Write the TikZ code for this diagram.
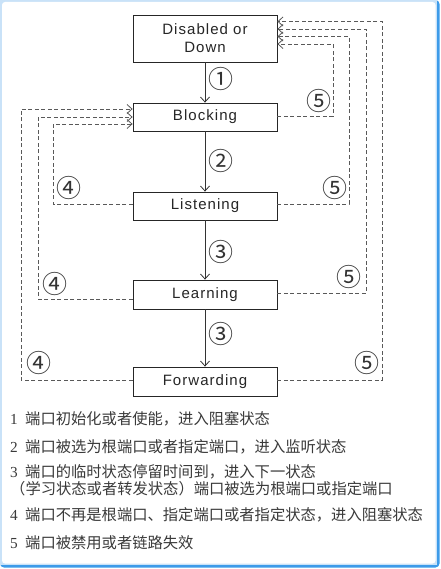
\documentclass[tikz,border=0pt]{standalone}
\usepackage{fontspec}
\setmainfont{Liberation Serif}
\newfontfamily\boxfont[LetterSpace=7]{Liberation Sans}
\newfontfamily\cjk{Noto Sans CJK SC}
\usetikzlibrary{arrows.meta}
\definecolor{framedark}{HTML}{3D9BE9}
\definecolor{framelight}{HTML}{C9E2F8}
\definecolor{txt}{HTML}{3A3A3A}
\begin{document}
\begin{tikzpicture}[x=1pt,y=-1pt,
  state/.style={draw=black!85, line width=0.8pt, fill=white, minimum width=144pt,
    minimum height=28pt, inner sep=0pt, font=\boxfont\fontsize{15}{18}\selectfont,
    text=black!85, align=center},
  flow/.style={draw=black!80, line width=0.8pt, -{Straight Barb[length=5pt,width=9pt]}},
  back/.style={draw=black!65, line width=0.8pt, dash pattern=on 4pt off 2.5pt,
    -{Straight Barb[length=5pt,width=9pt]}},
  num/.style={font=\cjk\fontsize{25}{25}\selectfont, text=black!80, inner sep=0pt},
  legend/.style={anchor=west, inner sep=0pt, text=txt, align=left,
    font=\cjk\fontsize{15.3}{17}\selectfont}]
\useasboundingbox (0,0) rectangle (440,569);
% window frame
\fill[white] (0,0) rectangle (440,569);
\fill[framedark, rounded corners=4pt] (0,0) rectangle (439.5,567.5);
\fill[framelight] (0,0) rectangle (436.5,564.5);
\fill[white, rounded corners=3pt] (2,2) rectangle (435.5,563.5);

% states
\node[state, minimum height=47pt] (dis) at (205,38.5) {Disabled or\\Down};
\node[state] (blk) at (205,117) {Blocking};
\node[state] (lis) at (205,206) {Listening};
\node[state, minimum height=29pt] (lea) at (205,294.5) {Learning};
\node[state, minimum height=29pt] (fwd) at (205,381.5) {Forwarding};

% main flow
\draw[flow] (dis) -- (blk);
\draw[flow] (blk) -- (lis);
\draw[flow] (lis) -- (lea);
\draw[flow] (lea) -- (fwd);

\node[num] (n1) at (221,79) {①};
\node[num] (n2) at (221,161) {②};
\node[num] (n3a) at (221,252) {③};
\node[num] (n3b) at (221,334) {③};

% back to blocking (4)
\coordinate (la) at (53,124);
\coordinate (lb) at (38,117);
\coordinate (lc) at (21,109);
\draw[back] ([yshift=2pt]lis.west) -| (la) -- (blk.west |- la);
\draw[back] ([yshift=-4.5pt]lea.west) -| (lb) -- (blk.west |- lb);
\draw[back] ([yshift=1.5pt]fwd.west) -| (lc) -- (blk.west |- lc);
\node[num] (f1) at (69,188) {④};
\node[num] (f2) at (55,284) {④};
\node[num] (f3) at (39,363) {④};

% back to disabled (5)
\coordinate (ra) at (333,44);
\coordinate (rb) at (349,36.5);
\coordinate (rc) at (366,29);
\coordinate (rd) at (382,21.5);
\draw[back] ([yshift=1pt]blk.east) -| (ra) -- (dis.east |- ra);
\draw[back] ([yshift=2pt]lis.east) -| (rb) -- (dis.east |- rb);
\draw[back] ([yshift=1.5pt]lea.east) -| (rc) -- (dis.east |- rc);
\draw[back] ([yshift=1.5pt]fwd.east) -| (rd) -- (dis.east |- rd);
\node[num] (g1) at (319,101) {⑤};
\node[num] (g2) at (335,188) {⑤};
\node[num] (g3) at (349,277) {⑤};
\node[num] (g4) at (367,363) {⑤};

% legend
\node[legend] (t1) at (10,419) {\makebox[15pt][l]{\rmfamily 1}端口初始化或者使能，进入阻塞状态};
\node[legend] (t2) at (10,447) {\makebox[15pt][l]{\rmfamily 2}端口被选为根端口或者指定端口，进入监听状态};
\node[legend] (t3) at (10,480.5) {\makebox[15pt][l]{\rmfamily 3}端口的临时状态停留时间到，进入下一状态\\（学习状态或者转发状态）端口被选为根端口或指定端口};
\node[legend] (t4) at (10,515) {\makebox[15pt][l]{\rmfamily 4}端口不再是根端口、指定端口或者指定状态，进入阻塞状态};
\node[legend] (t5) at (10,543) {\makebox[15pt][l]{\rmfamily 5}端口被禁用或者链路失效};
\end{tikzpicture}
\end{document}
